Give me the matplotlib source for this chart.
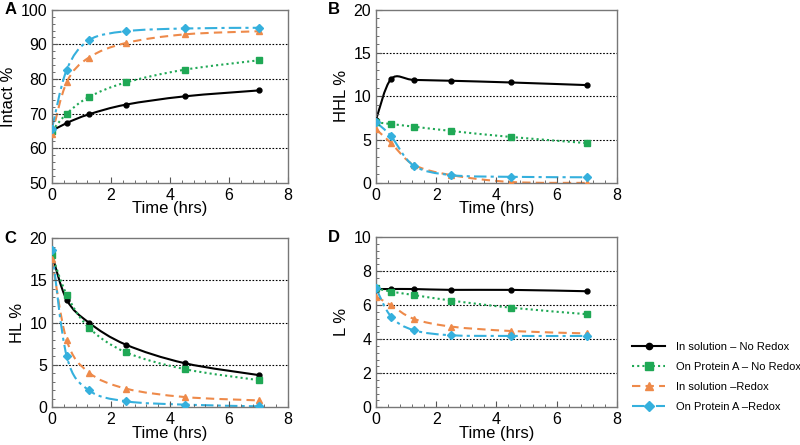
import matplotlib
matplotlib.use("Agg")
import matplotlib.pyplot as plt
from matplotlib.path import Path
from matplotlib.patches import PathPatch
from matplotlib.lines import Line2D
from matplotlib.ticker import MultipleLocator, AutoMinorLocator

plt.rcParams['font.family'] = ['Liberation Sans', 'DejaVu Sans']

# sampling times (hrs)
time_hrs = [0, 0.5, 1.25, 2.5, 4.5, 7]

series_names = ["In solution \u2013 No Redox", "On Protein A \u2013 No Redox",
                "In solution \u2013Redox", "On Protein A \u2013Redox"]

# panel A: Intact %
intact_sol_noredox = [65.0, 67.3, 69.8, 72.6, 75.0, 76.7]
intact_pa_noredox = [65.0, 70.0, 74.8, 79.0, 82.7, 85.4]
intact_sol_redox = [64.0, 79.1, 86.2, 90.4, 92.9, 93.8]
intact_pa_redox = [65.7, 82.7, 91.2, 93.8, 94.6, 94.8]

# panel B: HHL %
hhl_sol_noredox = [7.3, 12.0, 11.9, 11.8, 11.6, 11.3]
hhl_pa_noredox = [7.0, 6.8, 6.5, 6.0, 5.3, 4.6]
hhl_sol_redox = [6.2, 4.6, 2.1, 0.9, 0.1, 0.0]
hhl_pa_redox = [7.0, 5.4, 2.0, 0.9, 0.7, 0.65]

# panel C: HL %
hl_sol_noredox = [18.0, 12.7, 10.0, 7.4, 5.2, 3.8]
hl_pa_noredox = [18.0, 13.3, 9.4, 6.5, 4.5, 3.2]
hl_sol_redox = [17.5, 7.9, 4.1, 2.2, 1.2, 0.8]
hl_pa_redox = [18.6, 6.0, 2.0, 0.7, 0.3, 0.1]

# panel D: L %
l_sol_noredox = [6.95, 6.95, 6.95, 6.9, 6.9, 6.82]
l_pa_noredox = [7.0, 6.8, 6.6, 6.27, 5.85, 5.47]
l_sol_redox = [6.5, 6.0, 5.2, 4.74, 4.48, 4.34]
l_pa_redox = [7.0, 5.33, 4.53, 4.23, 4.19, 4.19]

styles = [
    dict(color="black", ls="-", marker="o", ms=3.5),
    dict(color="#1fa855", ls=(0, (1, 1.5)), marker="s", ms=5),
    dict(color="#ee8a4a", ls=(0, (4, 2.5)), marker="^", ms=5),
    dict(color="#35b0dd", ls=(0, (6, 2, 1.5, 2)), marker="D", ms=4),
]


def smooth_path(x, y):
    """Excel-like smoothed line as a cubic Bezier path through the points."""
    pts = list(zip(x, y))
    verts = [pts[0]]
    codes = [Path.MOVETO]
    n = len(pts)
    for i in range(n - 1):
        p0 = pts[i - 1] if i > 0 else pts[i]
        p1 = pts[i]
        p2 = pts[i + 1]
        p3 = pts[i + 2] if i + 2 < n else pts[i + 1]
        c1 = (p1[0] + (p2[0] - p0[0]) / 6, p1[1] + (p2[1] - p0[1]) / 6)
        c2 = (p2[0] - (p3[0] - p1[0]) / 6, p2[1] - (p3[1] - p1[1]) / 6)
        verts += [c1, c2, p2]
        codes += [Path.CURVE4] * 3
    return Path(verts, codes)


def draw_panel(ax, data, ylim, ystep, ylabel, letter):
    for vals, st in zip(data, styles):
        ax.add_patch(PathPatch(smooth_path(time_hrs, vals), fill=False,
                               edgecolor=st["color"], lw=1.5, ls=st["ls"]))
        ax.plot(time_hrs, vals, ls="none", marker=st["marker"], ms=st["ms"],
                color=st["color"], mec=st["color"], zorder=3)
    ax.set_xlim(0, 8)
    ax.set_ylim(*ylim)
    ax.xaxis.set_major_locator(MultipleLocator(2))
    ax.xaxis.set_minor_locator(AutoMinorLocator(5))
    ax.yaxis.set_major_locator(MultipleLocator(ystep))
    ax.yaxis.set_minor_locator(AutoMinorLocator(5))
    ax.tick_params(which="both", direction="in", labelsize=11.5, colors="#555555",
                   labelcolor="black")
    ax.tick_params(which="major", length=4)
    ax.tick_params(which="minor", length=2.5)
    for g in range(ylim[0] + ystep, ylim[1], ystep):
        ax.axhline(g, color="black", ls=(0, (1.5, 1.5)), lw=0.8, zorder=0)
    for sp in ax.spines.values():
        sp.set_color("#777777")
        sp.set_linewidth(1.0)
    ax.set_ylabel(ylabel, fontsize=12, labelpad=3)
    ax.set_xlabel("Time (hrs)", fontsize=12, labelpad=-1)
    ax.text(-0.2, 1.0, letter, transform=ax.transAxes, fontsize=12,
            fontweight="bold", va="center", ha="left")


fig = plt.figure(figsize=(8, 4.45), dpi=100)
axA = fig.add_axes([0.065, 0.589, 0.295, 0.389])
axB = fig.add_axes([0.47, 0.589, 0.301, 0.389])
axC = fig.add_axes([0.065, 0.085, 0.295, 0.38])
axD = fig.add_axes([0.47, 0.085, 0.301, 0.382])

draw_panel(axA, [intact_sol_noredox, intact_pa_noredox, intact_sol_redox, intact_pa_redox],
           (50, 100), 10, "Intact %", "A")
draw_panel(axB, [hhl_sol_noredox, hhl_pa_noredox, hhl_sol_redox, hhl_pa_redox],
           (0, 20), 5, "HHL %", "B")
draw_panel(axC, [hl_sol_noredox, hl_pa_noredox, hl_sol_redox, hl_pa_redox],
           (0, 20), 5, "HL %", "C")
draw_panel(axD, [l_sol_noredox, l_pa_noredox, l_sol_redox, l_pa_redox],
           (0, 10), 2, "L %", "D")

handles = [Line2D([], [], color=st["color"], ls=st["ls"], lw=1.5,
                  marker=st["marker"], ms=st["ms"] + 1) for st in styles]
fig.legend(handles, series_names, loc="center left", bbox_to_anchor=(0.79, 0.153),
           frameon=False, fontsize=8, handlelength=3.0, handletextpad=1.0,
           labelspacing=0.9, borderpad=0, borderaxespad=0)

fig.savefig("out.png", dpi=100)
